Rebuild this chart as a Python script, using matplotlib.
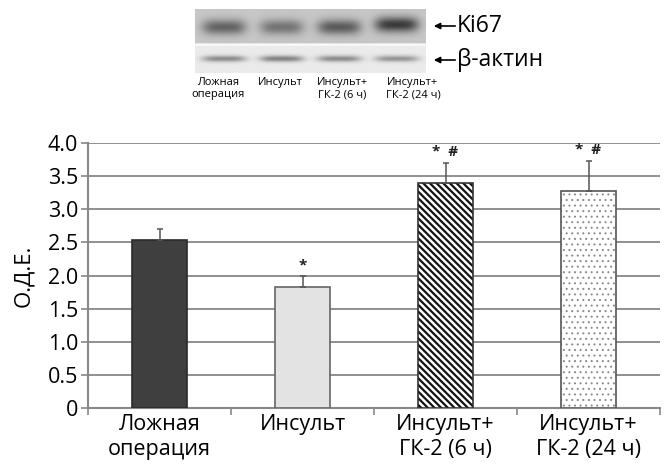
import numpy as np
import matplotlib
matplotlib.use("Agg")
import matplotlib.pyplot as plt
import matplotlib.colors as mcolors
import matplotlib.patches as mpatches

plt.rcParams['font.family'] = ['Open Sans', 'DejaVu Sans']

categories = ["Ложная\nоперация", "Инсульт", "Инсульт+\nГК-2 (6 ч)", "Инсульт+\nГК-2 (24 ч)"]
values = [2.54, 1.83, 3.39, 3.27]
errors = [0.16, 0.16, 0.31, 0.46]
marks = ["", "*", "*  #", "*  #"]
yticks = [0, 0.5, 1.0, 1.5, 2.0, 2.5, 3.0, 3.5, 4.0]
ytick_labels = ["0", "0.5", "1.0", "1.5", "2.0", "2.5", "3.0", "3.5", "4.0"]
ylabel = "О.Д.Е."

# blot band intensities (relative darkness) per lane
blot_lanes = ["Ложная\nоперация", "Инсульт", "Инсульт+\nГК-2 (6 ч)", "Инсульт+\nГК-2 (24 ч)"]
ki67_band = [0.6, 0.5, 0.65, 0.85]
actin_band = [0.5, 0.55, 0.5, 0.45]
blot_labels = ["Ki67", "β-актин"]

W, H = 666, 469
fig = plt.figure(figsize=(W / 100, H / 100), dpi=100)

# ---------------- bar chart ----------------
ax = fig.add_axes([88 / W, 1 - 408 / H, (660 - 88) / W, (408 - 143) / H])
x = np.arange(len(categories))
face = ["#3f3f3f", "#e3e3e3", "white", "white"]
edge = ["#2a2a2a", "#666666", "#333333", "#555555"]
hatches = [None, None, "\\\\\\\\\\", "..."]
hatch_cols = [None, None, "#111111", "#8a8a8a"]
hatch_lw = [1.0, 1.0, 1.6, 0.7]
for i in range(len(categories)):
    b = ax.bar(x[i], values[i], width=0.39, color=face[i], edgecolor=edge[i],
               linewidth=1.2, hatch=hatches[i], zorder=3)[0]
    if hatch_cols[i]:
        b._hatch_color = mcolors.to_rgba(hatch_cols[i])
        try:
            b.set_hatch_linewidth(hatch_lw[i])
        except Exception:
            b._hatch_linewidth = hatch_lw[i]
    ax.errorbar(x[i], values[i], yerr=[[0], [errors[i]]], fmt="none",
                ecolor="#555555", elinewidth=1.1, capsize=2.2, capthick=1.1, zorder=4)
    if marks[i]:
        ax.text(x[i], values[i] + errors[i] + 0.06, marks[i], ha="center", va="bottom",
                fontsize=11, fontweight="bold", color="#222222", zorder=5)

ax.set_xlim(-0.5, len(categories) - 0.5)
ax.set_ylim(0, 4.0)
ax.set_yticks(yticks)
ax.set_yticklabels(ytick_labels, fontsize=15.5)
ax.yaxis.grid(True, color="#8f8f8f", linewidth=1.4, zorder=0)
ax.set_axisbelow(True)
ax.set_xticks(np.arange(-0.5, len(categories), 1.0), minor=True)
ax.tick_params(axis="x", which="minor", length=5, color="#888888", width=1.2, direction="out")
ax.set_xticks(x)
ax.set_xticklabels(categories, fontsize=15.5, linespacing=1.3)
ax.tick_params(axis="x", which="major", length=0, pad=4)
ax.tick_params(axis="y", length=5, color="#888888", width=1.2, pad=2)
for s in ["top", "right"]:
    ax.spines[s].set_visible(False)
for s in ["left", "bottom"]:
    ax.spines[s].set_color("#888888")
    ax.spines[s].set_linewidth(1.5)
ax.set_ylabel(ylabel, fontsize=16, labelpad=10)

# ---------------- western blot ----------------
bx = fig.add_axes([195 / W, 1 - 73 / H, (426 - 195) / W, (73 - 9) / H])
nx, ny = 240, 80
xx = np.linspace(0, 4, nx)
yy = np.linspace(0, 1, ny)
X, Y = np.meshgrid(xx, yy)
img = np.ones((ny, nx))
top = Y < 0.54
img[top] = 0.78
img[~top] = 0.92
for i in range(4):
    cx = i + 0.5
    prof = np.exp(-np.abs((X - cx) / 0.38) ** 4)
    img -= ki67_band[i] * 0.65 * prof * np.exp(-((Y - 0.28 + 0.04 * (i == 3)) / 0.12) ** 2)
    img -= actin_band[i] * 0.75 * prof * np.exp(-((Y - 0.78) / 0.05) ** 2)
img[(Y > 0.54) & (Y < 0.58)] = 0.98
bx.imshow(np.clip(img, 0, 1), cmap="gray", vmin=0, vmax=1, aspect="auto",
          extent=[0, 4, 1, 0], interpolation="bilinear")
bx.set_axis_off()

for lab, ypix in zip(blot_labels, [26, 60]):
    fig.text(457 / W, 1 - ypix / H, lab, fontsize=16.5, va="center", ha="left")
    fig.add_artist(mpatches.FancyArrowPatch(
        (458 / W, 1 - ypix / H), (431 / W, 1 - ypix / H), transform=fig.transFigure,
        arrowstyle="-|>", mutation_scale=9, color="black", linewidth=1.2))

lane_x = [218, 280, 342, 413]
for lab, lx in zip(blot_lanes, lane_x):
    fig.text(lx / W, 1 - 77 / H, lab, fontsize=8, ha="center", va="top", linespacing=1.15)

fig.savefig("out.png", dpi=100)
